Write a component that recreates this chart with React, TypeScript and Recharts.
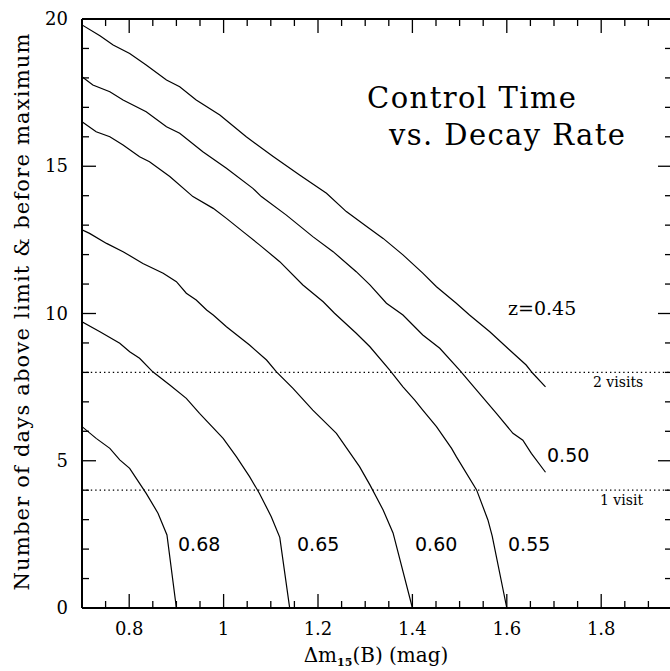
import { Line, LineChart, ReferenceLine, XAxis, YAxis } from "recharts";

// tick values
const xMajorTicks = [0.8, 1, 1.2, 1.4, 1.6, 1.8];
const xMinorTicks = [
  0.75, 0.85, 0.9, 0.95, 1.05, 1.1, 1.15, 1.25, 1.3, 1.35, 1.45, 1.5, 1.55,
  1.65, 1.7, 1.75, 1.85, 1.9,
];
const yMajorTicks = [0, 5, 10, 15, 20];
const yMinorTicks = [
  1, 2, 3, 4, 6, 7, 8, 9, 11, 12, 13, 14, 16, 17, 18, 19,
];

// visit thresholds (days)
const visitLevels = [8, 4];

// control time curves, [dm15, days]
const z045: [number, number][] = [
  [0.7, 19.8], [0.738, 19.43], [0.766, 19.12], [0.801, 18.83], [0.836, 18.44],
  [0.879, 17.93], [0.907, 17.7], [0.942, 17.25], [0.992, 16.74], [1.048, 16.0],
  [1.105, 15.33], [1.161, 14.7], [1.218, 14.08], [1.26, 13.46], [1.306, 12.92],
  [1.338, 12.55], [1.38, 11.99], [1.422, 11.37], [1.451, 10.91], [1.493, 10.35],
  [1.521, 9.95], [1.564, 9.38], [1.606, 8.76], [1.641, 8.25], [1.655, 7.97],
  [1.682, 7.51],
];
const z050: [number, number][] = [
  [0.7, 18.04], [0.723, 17.76], [0.759, 17.53], [0.787, 17.25], [0.836, 16.85],
  [0.879, 16.34], [0.907, 16.12], [0.956, 15.49], [1.006, 14.93], [1.062, 14.25],
  [1.08, 13.97], [1.133, 13.34], [1.189, 12.61], [1.232, 12.1], [1.281, 11.42],
  [1.31, 10.97], [1.345, 10.35], [1.38, 9.95], [1.422, 9.27], [1.458, 8.82],
  [1.5, 8.08], [1.536, 7.4], [1.578, 6.61], [1.613, 5.93], [1.634, 5.7],
  [1.652, 5.25], [1.682, 4.61],
];
const z055: [number, number][] = [
  [0.7, 16.51], [0.73, 16.17], [0.759, 16.0], [0.787, 15.72], [0.822, 15.32],
  [0.843, 15.15], [0.886, 14.65], [0.935, 13.97], [0.978, 13.57], [1.006, 13.23],
  [1.041, 12.78], [1.076, 12.33], [1.119, 11.76], [1.168, 10.97], [1.211, 10.4],
  [1.235, 10.01], [1.281, 9.33], [1.31, 8.87], [1.352, 8.08], [1.38, 7.51],
  [1.405, 7.06], [1.422, 6.72], [1.451, 6.16], [1.483, 5.42], [1.493, 5.14],
  [1.536, 4.01], [1.56, 2.99], [1.569, 2.45], [1.6, 0],
];
const z060: [number, number][] = [
  [0.7, 12.84], [0.716, 12.72], [0.752, 12.38], [0.787, 12.1], [0.829, 11.7],
  [0.872, 11.37], [0.9, 11.08], [0.921, 10.69], [0.942, 10.46], [0.964, 10.12],
  [0.978, 9.95], [1.006, 9.55], [1.055, 8.93], [1.091, 8.42], [1.112, 8.02],
  [1.147, 7.46], [1.189, 6.72], [1.239, 5.93], [1.288, 4.8], [1.31, 4.18],
  [1.338, 3.33], [1.359, 2.55], [1.4, 0],
];
const z065: [number, number][] = [
  [0.7, 9.72], [0.738, 9.38], [0.78, 8.99], [0.801, 8.7], [0.822, 8.48],
  [0.85, 8.02], [0.886, 7.57], [0.921, 7.12], [0.949, 6.61], [0.999, 5.76],
  [1.027, 5.14], [1.055, 4.46], [1.076, 3.89], [1.101, 3.1], [1.119, 2.4],
  [1.14, 0],
];
const z068: [number, number][] = [
  [0.7, 6.16], [0.73, 5.76], [0.759, 5.42], [0.78, 5.03], [0.801, 4.74],
  [0.822, 4.23], [0.836, 3.89], [0.861, 3.22], [0.88, 2.48], [0.9, 0],
];

const curves = [z045, z050, z055, z060, z065, z068];

const serif = '"DejaVu Serif", serif';
const sans = '"DejaVu Sans", sans-serif';
const ink = "#000";

const isMajor = (list: number[], v: number) =>
  list.some((m) => Math.abs(m - v) < 1e-6);

function BottomTick({ x, y, payload }: any) {
  const major = isMajor(xMajorTicks, payload.value);
  return (
    <g>
      <line x1={x} x2={x} y1={y} y2={y - (major ? 14 : 7)} stroke={ink} strokeWidth={1.3} />
      {major && (
        <text x={x} y={y + 27} textAnchor="middle" fontFamily={serif} fontSize={18} fill={ink}>
          {String(payload.value)}
        </text>
      )}
    </g>
  );
}

function TopTick({ x, y, payload }: any) {
  const major = isMajor(xMajorTicks, payload.value);
  return <line x1={x} x2={x} y1={y} y2={y + (major ? 14 : 7)} stroke={ink} strokeWidth={1.3} />;
}

function LeftTick({ x, y, payload }: any) {
  const major = isMajor(yMajorTicks, payload.value);
  return (
    <g>
      <line x1={x} x2={x + (major ? 14 : 7)} y1={y} y2={y} stroke={ink} strokeWidth={1.3} />
      {major && (
        <text x={x - 14} y={y + 6} textAnchor="end" fontFamily={serif} fontSize={18} fill={ink}>
          {String(payload.value)}
        </text>
      )}
    </g>
  );
}

function RightTick({ x, y, payload }: any) {
  const major = isMajor(yMajorTicks, payload.value);
  return <line x1={x} x2={x - (major ? 14 : 7)} y1={y} y2={y} stroke={ink} strokeWidth={1.3} />;
}

export default function App() {
  const xTicks = [...xMajorTicks, ...xMinorTicks].sort((a, b) => a - b);
  const yTicks = [...yMajorTicks, ...yMinorTicks].sort((a, b) => a - b);
  const axisLine = { stroke: ink, strokeWidth: 2 };

  return (
    <div
      style={{
        position: "absolute",
        left: 0,
        top: 0,
        width: 670,
        height: 671,
        overflow: "hidden",
        background: "#fff",
      }}
    >
      <LineChart width={700} height={671} margin={{ top: 18, right: 27, bottom: 62, left: 81 }}>
        <XAxis
          xAxisId="b"
          type="number"
          dataKey="x"
          domain={[0.7, 1.95]}
          allowDataOverflow
          ticks={xTicks}
          interval={0}
          height={1}
          tickSize={0}
          tickMargin={0}
          tickLine={false}
          axisLine={axisLine}
          tick={(p: any) => <BottomTick {...p} />}
        />
        <XAxis
          xAxisId="t"
          orientation="top"
          type="number"
          dataKey="x"
          domain={[0.7, 1.95]}
          allowDataOverflow
          ticks={xTicks}
          interval={0}
          height={1}
          tickSize={0}
          tickMargin={0}
          tickLine={false}
          axisLine={axisLine}
          tick={(p: any) => <TopTick {...p} />}
        />
        <YAxis
          yAxisId="l"
          type="number"
          domain={[0, 20]}
          allowDataOverflow
          ticks={yTicks}
          interval={0}
          width={1}
          tickSize={0}
          tickMargin={0}
          tickLine={false}
          axisLine={axisLine}
          tick={(p: any) => <LeftTick {...p} />}
        />
        <YAxis
          yAxisId="r"
          orientation="right"
          type="number"
          domain={[0, 20]}
          allowDataOverflow
          ticks={yTicks}
          interval={0}
          width={1}
          tickSize={0}
          tickMargin={0}
          tickLine={false}
          axisLine={axisLine}
          tick={(p: any) => <RightTick {...p} />}
        />
        {visitLevels.map((v) => (
          <ReferenceLine
            key={v}
            xAxisId="b"
            yAxisId="l"
            y={v}
            stroke={ink}
            strokeWidth={1.2}
            strokeDasharray="1.4 3"
          />
        ))}
        {curves.map((c, i) => (
          <Line
            key={i}
            xAxisId="b"
            yAxisId="l"
            data={c.map(([x, y]) => ({ x, y }))}
            dataKey="y"
            type="linear"
            stroke={ink}
            strokeWidth={1.2}
            dot={false}
            activeDot={false}
            isAnimationActive={false}
          />
        ))}
      </LineChart>

      <svg
        width={670}
        height={671}
        style={{ position: "absolute", left: 0, top: 0, pointerEvents: "none" }}
      >
        <g fontFamily={serif} fill={ink} fontSize={29}>
          <text x={367} y={108} textLength={209} lengthAdjust="spacing">
            Control Time
          </text>
          <text x={389} y={145} textLength={236} lengthAdjust="spacing">
            vs. Decay Rate
          </text>
        </g>
        <text
          transform="translate(29,312) rotate(-90)"
          textAnchor="middle"
          fontFamily={serif}
          fontSize={21}
          fill={ink}
          textLength={557}
          lengthAdjust="spacing"
        >
          Number of days above limit &amp; before maximum
        </text>
        <text x={376} y={662} textAnchor="middle" fontFamily={serif} fontSize={20} fill={ink}>
          Δm
          <tspan dy={4} fontSize={11} fontWeight="bold">15</tspan>
          <tspan dy={-4}>(B)  (mag)</tspan>
        </text>
        <text x={508} y={315} fontFamily={serif} fontSize={19} fill={ink}>
          z=0.45
        </text>
        <g fontFamily={sans} fontSize={19} fill={ink}>
          <text x={547} y={462}>0.50</text>
          <text x={508} y={551}>0.55</text>
          <text x={415} y={551}>0.60</text>
          <text x={297} y={551}>0.65</text>
          <text x={178} y={551}>0.68</text>
        </g>
        <g fontFamily={serif} fontSize={14} fill={ink}>
          <text x={593} y={387}>2 visits</text>
          <text x={600} y={505}>1 visit</text>
        </g>
      </svg>
    </div>
  );
}
